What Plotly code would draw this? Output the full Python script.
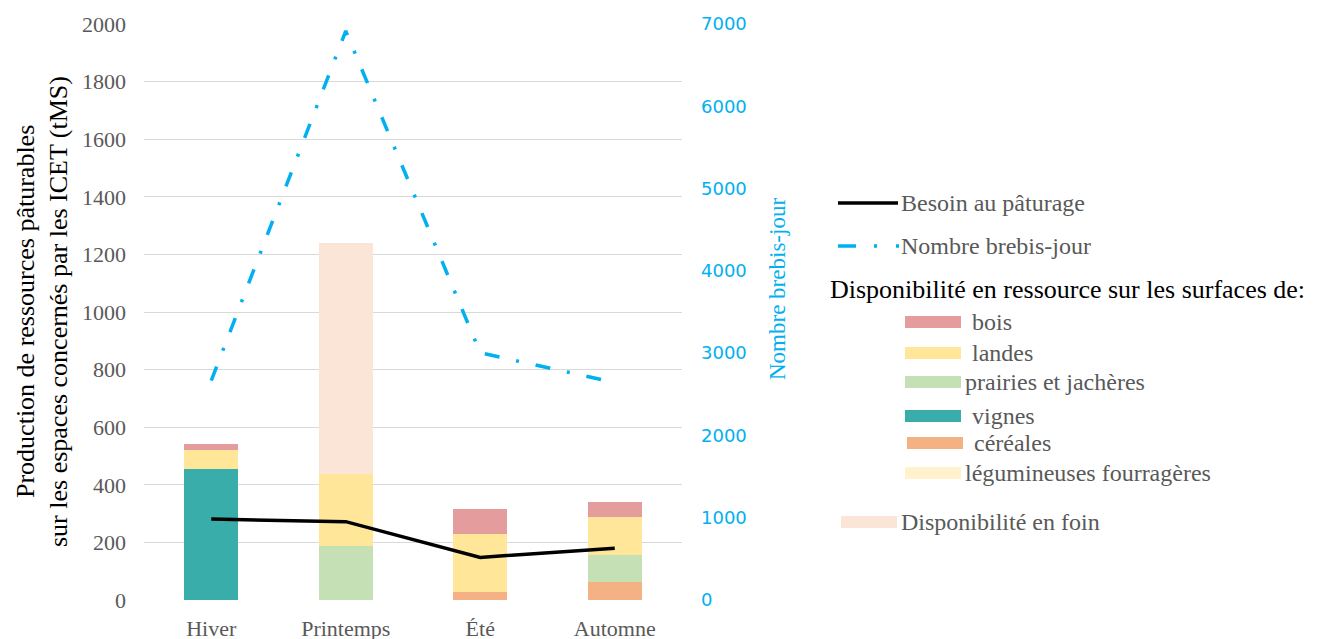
import plotly.graph_objects as go

# ---------------- data ----------------
saisons = ["Hiver", "Printemps", "Été", "Automne"]

cereales = [0, 0, 29, 61]
prairies = [0, 188, 0, 96]
vignes = [455, 0, 0, 0]
legumineuses = [0, 0, 0, 0]
landes = [67, 249, 201, 131]
bois = [21, 0, 86, 54]
foin = [0, 804, 0, 0]

besoin = [281, 272, 148, 180]
brebis_jour = [2667, 6915, 3004, 2643]

left_ticks = list(range(0, 2001, 200))
right_ticks = list(range(0, 7001, 1000))

# ---------------- styles ----------------
C_BOIS = "#E59C9C"
C_LANDES = "#FFE699"
C_PRAIRIES = "#C5E0B4"
C_VIGNES = "#38ADA9"
C_CEREALES = "#F4B183"
C_LEGUM = "#FFF2CC"
C_FOIN = "#FBE5D6"
C_BLUE = "#00B0F0"
GRAY = "#595959"
SERIF = "Liberation Serif, Times New Roman, serif"

OFF = 8  # page body margin
W, H = 1341, 639
# plot area in screen pixels
SL, SR, ST, SB = 144, 682, 24, 600
L, R, T, B = SL - OFF, SR - OFF, ST - OFF, SB - OFF


def px(x):
    return (x - SL) / (SR - SL)


def py(y):
    return (SB - y) / (SB - ST)


fig = go.Figure()

stack = [
    ("céréales", cereales, C_CEREALES),
    ("prairies et jachères", prairies, C_PRAIRIES),
    ("vignes", vignes, C_VIGNES),
    ("légumineuses fourragères", legumineuses, C_LEGUM),
    ("landes", landes, C_LANDES),
    ("bois", bois, C_BOIS),
    ("Disponibilité en foin", foin, C_FOIN),
]
for name, vals, col in stack:
    fig.add_trace(go.Bar(x=saisons, y=vals, name=name, marker=dict(color=col, line=dict(width=0)),
                         showlegend=False, yaxis="y"))

fig.add_trace(go.Scatter(x=saisons, y=besoin, mode="lines", name="Besoin au pâturage",
                         line=dict(color="black", width=3.5), showlegend=False, yaxis="y"))
fig.add_trace(go.Scatter(x=saisons, y=brebis_jour, mode="lines", name="Nombre brebis-jour",
                         line=dict(color=C_BLUE, width=3.5, dash="15px,17px,3px,17px"),
                         showlegend=False, yaxis="y2"))

fig.update_layout(
    width=W, height=H,
    template="none",
    paper_bgcolor="white", plot_bgcolor="white",
    margin=dict(l=L, r=W - R, t=T, b=H - B, pad=0),
    barmode="stack", bargap=0.596,
    font=dict(family=SERIF, size=22, color=GRAY),
    xaxis=dict(showgrid=False, showline=False, zeroline=False, ticks="", automargin=False,
               tickfont=dict(family=SERIF, size=22, color=GRAY), ticklabelstandoff=13),
    yaxis=dict(range=[0, 2000], tickvals=left_ticks, showgrid=True, gridcolor="#D9D9D9", gridwidth=1,
               zeroline=False, showline=False, ticks="", automargin=False,
               tickfont=dict(family=SERIF, size=22, color=GRAY), ticklabelstandoff=17),
    yaxis2=dict(range=[0, 7000], tickvals=right_ticks, overlaying="y", side="right", showgrid=False,
                zeroline=False, showline=False, ticks="", automargin=False,
                tickfont=dict(family="DejaVu Sans", size=18, color=C_BLUE), ticklabelstandoff=18),
    showlegend=False,
)

ann = []
shapes = []

# axis titles
ann.append(dict(text="Production de ressources pâturables", x=px(25), y=py(312), xref="paper", yref="paper",
                showarrow=False, textangle=-90, xanchor="center", yanchor="middle",
                font=dict(family=SERIF, size=26, color="black")))
ann.append(dict(text="sur les espaces concernés par les ICET (tMS)", x=px(58), y=py(312), xref="paper",
                yref="paper", showarrow=False, textangle=-90, xanchor="center", yanchor="middle",
                font=dict(family=SERIF, size=26, color="black")))
ann.append(dict(text="Nombre brebis-jour", x=px(777), y=py(289), xref="paper", yref="paper",
                showarrow=False, textangle=-90, xanchor="center", yanchor="middle",
                font=dict(family=SERIF, size=23, color=C_BLUE)))


# legend (drawn manually)
def legend_text(text, x, y, size=24, color=GRAY):
    ann.append(dict(text=text, x=px(x), y=py(y), xref="paper", yref="paper", showarrow=False,
                    xanchor="left", yanchor="middle", font=dict(family=SERIF, size=size, color=color)))


shapes.append(dict(type="line", xref="paper", yref="paper", x0=px(838), x1=px(898), y0=py(203), y1=py(203),
                   line=dict(color="black", width=3.5)))
legend_text("Besoin au pâturage", 899, 203)
shapes.append(dict(type="line", xref="paper", yref="paper", x0=px(838), x1=px(899), y0=py(246), y1=py(246),
                   line=dict(color=C_BLUE, width=3.5, dash="18px,18px,3px,19px,3px,100px")))
legend_text("Nombre brebis-jour", 899, 246)
legend_text("Disponibilité en ressource sur les surfaces de:", 828, 289, size=26, color="black")

items = [
    ("bois", C_BOIS, 905, 322, 970),
    ("landes", C_LANDES, 905, 353, 970),
    ("prairies et jachères", C_PRAIRIES, 905, 382, 963),
    ("vignes", C_VIGNES, 905, 416, 970),
    ("céréales", C_CEREALES, 907, 443, 972),
    ("légumineuses fourragères", C_LEGUM, 905, 473, 963),
]
for text, col, x0, yc, tx in items:
    shapes.append(dict(type="rect", xref="paper", yref="paper", x0=px(x0), x1=px(x0 + 56),
                       y0=py(yc - 6), y1=py(yc + 6), fillcolor=col, line=dict(width=0)))
    legend_text(text, tx, yc)

shapes.append(dict(type="rect", xref="paper", yref="paper", x0=px(841), x1=px(897), y0=py(516), y1=py(528),
                   fillcolor=C_FOIN, line=dict(width=0)))
legend_text("Disponibilité en foin", 899, 522)

fig.update_layout(annotations=ann, shapes=shapes)

fig.write_html("out.html")
